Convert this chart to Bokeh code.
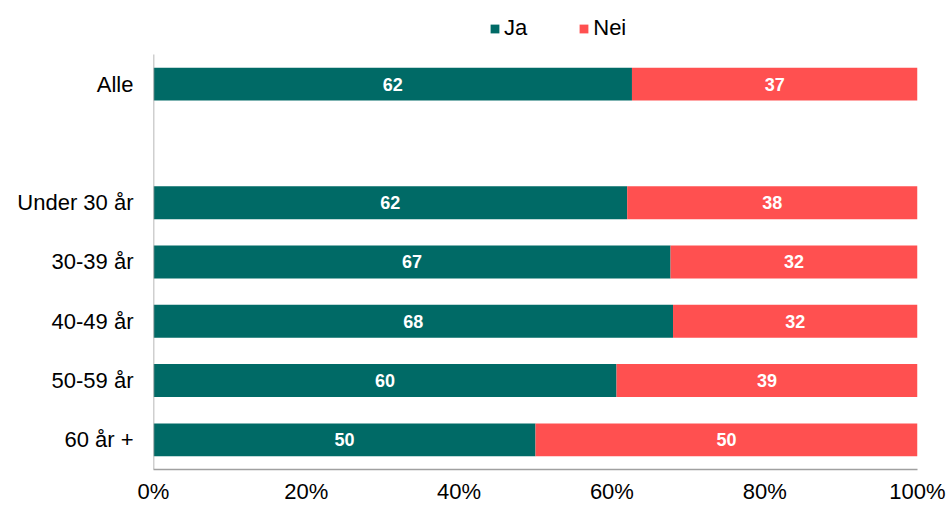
from bokeh.plotting import figure
from bokeh.models import ColumnDataSource, FixedTicker, NumeralTickFormatter, Legend, LegendItem, Range1d
from bokeh.embed import file_html
from bokeh.resources import INLINE
from bokeh.core.properties import value

categories = ["Alle", "Under 30 år", "30-39 år", "40-49 år", "50-59 år", "60 år +"]
ja = [62, 62, 67, 68, 60, 50]
nei = [37, 38, 32, 32, 39, 50]
x_ticks = [0, 0.2, 0.4, 0.6, 0.8, 1.0]

JA_COLOR = "#006A66"
NEI_COLOR = "#FF5050"
AXIS_COLOR = "#A0A0A0"
FONT = "Liberation Sans"

n = len(categories)
# "Alle" sits on top, one empty slot below it, then the age groups
slots = [n] + list(range(n - 2, -1, -1))

tot = [a + b for a, b in zip(ja, nei)]
ja_share = [a / t for a, t in zip(ja, tot)]
src = ColumnDataSource(dict(
    pos=slots,
    zero=[0] * n,
    ja_end=ja_share,
    one=[1.0] * n,
    ja_mid=[s / 2 for s in ja_share],
    nei_mid=[(s + 1) / 2 for s in ja_share],
    ja_lbl=[str(v) for v in ja],
    nei_lbl=[str(v) for v in nei],
))

y_top = n + 0.5 + 0.91   # extra headroom for the legend
p = figure(width=946, height=506, y_range=Range1d(-0.5, y_top),
           x_range=Range1d(0, 1), output_backend="svg", toolbar_location=None,
           min_border_left=153, min_border_right=29, min_border_top=0, min_border_bottom=37)

r_ja = p.hbar(y="pos", left="zero", right="ja_end", height=0.555, source=src,
              fill_color=JA_COLOR, line_color=None)
r_nei = p.hbar(y="pos", left="ja_end", right="one", height=0.555, source=src,
               fill_color=NEI_COLOR, line_color=None)

# left axis line only over the category area
p.segment(x0=[0], y0=[-0.5], x1=[0], y1=[n + 0.5], line_color=AXIS_COLOR, line_width=1.5)

p.text(x="ja_mid", y="pos", text="ja_lbl", source=src, text_color="white",
       text_font=value(FONT), text_font_size="18px", text_font_style="bold",
       text_align="center", text_baseline="middle")
p.text(x="nei_mid", y="pos", text="nei_lbl", source=src, text_color="white",
       text_font=value(FONT), text_font_size="18px", text_font_style="bold",
       text_align="center", text_baseline="middle")

p.xaxis.ticker = FixedTicker(ticks=x_ticks)
p.xaxis.formatter = NumeralTickFormatter(format="0%")
p.yaxis.ticker = FixedTicker(ticks=slots)
p.yaxis.major_label_overrides = {s: c for s, c in zip(slots, categories)}
for ax in (p.xaxis, p.yaxis):
    ax.major_tick_line_color = None
    ax.minor_tick_line_color = None
    ax.major_tick_out = 0
    ax.major_tick_in = 0
    ax.minor_tick_out = 0
    ax.major_label_text_font = FONT
    ax.major_label_text_color = "black"
p.xaxis.axis_line_color = AXIS_COLOR
p.xaxis.axis_line_width = 1.5
p.yaxis.axis_line_color = None
p.xaxis.major_label_text_font_size = "22px"
p.xaxis.major_label_standoff = 9
p.yaxis.major_label_text_font_size = "22px"
p.yaxis.major_label_standoff = 20

p.xgrid.grid_line_color = None
p.ygrid.grid_line_color = None
p.outline_line_color = None

legend = Legend(items=[LegendItem(label="Ja", renderers=[r_ja]),
                       LegendItem(label="Nei", renderers=[r_nei])],
                orientation="horizontal", location=(336, 428),
                label_text_font=FONT, label_text_font_size="22px", label_text_color="black",
                glyph_width=11, glyph_height=11, label_standoff=4, spacing=51,
                border_line_color=None, background_fill_alpha=0, padding=0, margin=0)
p.add_layout(legend)

open("out.html", "w").write(file_html(p, INLINE))
